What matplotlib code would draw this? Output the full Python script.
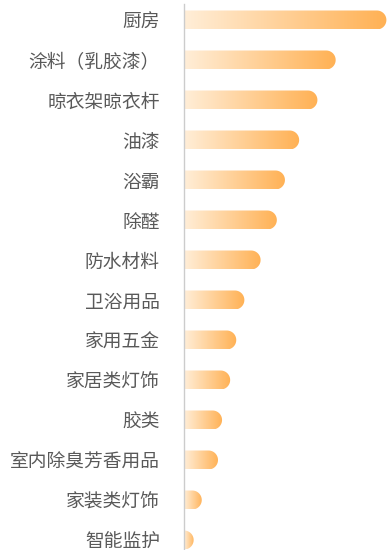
import matplotlib
matplotlib.use("Agg")
import matplotlib.pyplot as plt
import numpy as np
from matplotlib.path import Path
from matplotlib.patches import PathPatch
from matplotlib.colors import LinearSegmentedColormap

plt.rcParams['font.family'] = ['Noto Sans CJK SC', 'DejaVu Sans']

categories = ['厨房', '涂料（乳胶漆）', '晾衣架晾衣杆', '油漆', '浴霸', '除醛', '防水材料',
              '卫浴用品', '家用五金', '家居类灯饰', '胶类', '室内除臭芳香用品', '家装类灯饰', '智能监护']
values = [100, 75, 66, 57, 50, 46, 38, 30, 26, 23, 19, 17, 9, 5]

W, H = 387, 550
fig = plt.figure(figsize=(W / 100, H / 100), dpi=100)
ax = fig.add_axes([183.5 / W, 0, 1 - 183.5 / W, 546 / H])

n = len(categories)
ylim = (n - 0.75, -0.4)
ax.set_xlim(0, 100.3)
ax.set_ylim(*ylim)

cmap = LinearSegmentedColormap.from_list('bar', ['#FFEED8', '#FFB154'])
grad = np.linspace(0, 1, 256).reshape(1, -1)

fig.canvas.draw()
# radius of the rounded end, in data units, so it looks circular on screen
bar_h = 0.475
p0 = ax.transData.transform((0, 0))
p1 = ax.transData.transform((1, bar_h))
px_per_x = p1[0] - p0[0]
r_px = abs(p1[1] - p0[1]) / 2
rx = r_px / px_per_x

for i, v in enumerate(values):
    y0, y1 = i - bar_h / 2, i + bar_h / 2
    r = min(rx, v)
    th = np.linspace(-np.pi / 2, np.pi / 2, 40)
    xs = [0] + list(v - r + r * np.cos(th)) + [0]
    ys = [y1] + list(i - (bar_h / 2) * np.sin(th)) + [y0]
    verts = list(zip(xs, ys)) + [(0, y1)]
    codes = [Path.MOVETO] + [Path.LINETO] * (len(verts) - 2) + [Path.CLOSEPOLY]
    patch = PathPatch(Path(verts, codes), facecolor='none', edgecolor='none')
    ax.add_patch(patch)
    im = ax.imshow(grad, cmap=cmap, aspect='auto', extent=[0, v, y1, y0],
                   interpolation='bilinear', zorder=2)
    im.set_clip_path(patch)

ax.set_xlim(0, 100.3)
ax.set_ylim(*ylim)
ax.set_yticks(range(n))
ax.set_yticklabels(categories, fontsize=13.5, color='#595959')
ax.tick_params(axis='y', length=0, pad=17)
ax.set_xticks([])
for s in ['top', 'right', 'bottom']:
    ax.spines[s].set_visible(False)
ax.spines['left'].set_color('#cccccc')
ax.spines['left'].set_linewidth(1)

fig.savefig('out.png', dpi=100)
